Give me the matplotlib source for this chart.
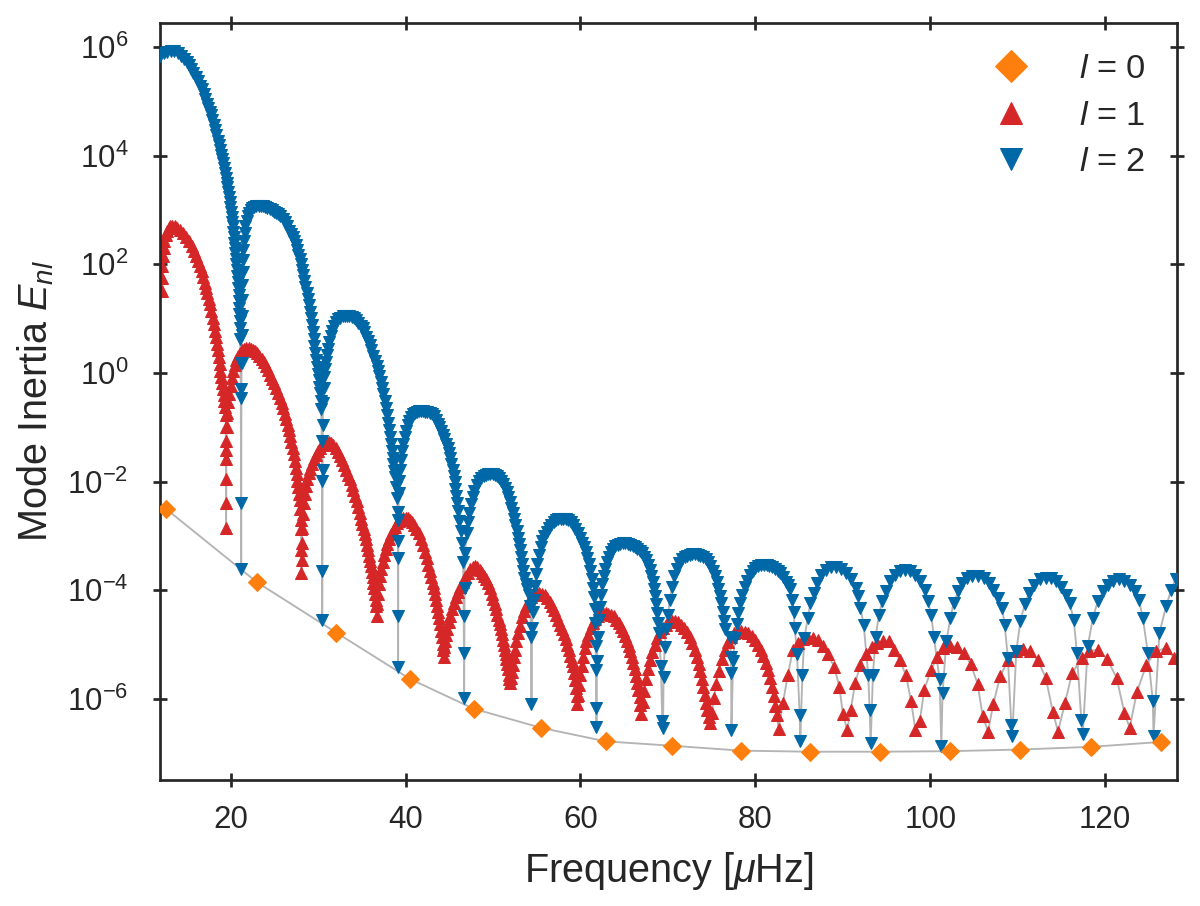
import numpy as np
import matplotlib
matplotlib.use("Agg")
import matplotlib.pyplot as plt
from matplotlib.ticker import FixedLocator, NullLocator, LogFormatterSciNotation
from matplotlib.lines import Line2D

plt.rcParams['font.family'] = ['Liberation Sans', 'DejaVu Sans']
plt.rcParams['mathtext.fontset'] = 'custom'
plt.rcParams['mathtext.rm'] = 'Liberation Sans'
plt.rcParams['mathtext.it'] = 'Liberation Sans:italic'
plt.rcParams['mathtext.bf'] = 'Liberation Sans:bold'

# ---- l = 0 radial modes (frequency in muHz, log10 of mode inertia) ----
nu_l0 = [12.6, 23.0, 32.1, 40.5, 47.8, 55.5, 62.9, 70.5, 78.3, 86.2, 94.2, 102.2, 110.3, 118.4, 126.4]
lg_l0 = [-2.50, -3.85, -4.78, -5.63, -6.18, -6.53, -6.78, -6.86, -6.95, -6.97, -6.97, -6.96, -6.93, -6.88, -6.79]

# ---- l = 1 mixed modes, one list of (nu, log10 E) per p-mode lobe ----
l1_lobe1 = [(12.10, 1.50), (12.14, 1.75), (12.19, 1.97), (12.25, 2.15), (12.33, 2.30), (12.43, 2.43),
            (12.56, 2.54), (12.72, 2.62), (12.9, 2.67), (13.1, 2.70), (13.35, 2.71), (13.63, 2.70),
            (13.9, 2.67), (14.2, 2.63), (14.58, 2.58), (14.9, 2.51), (15.22, 2.43), (15.54, 2.34),
            (15.8, 2.25), (16.05, 2.15), (16.28, 2.06), (16.49, 1.97), (16.68, 1.87), (16.86, 1.77),
            (17.04, 1.66), (17.2, 1.57), (17.35, 1.47), (17.5, 1.37), (17.65, 1.26), (17.8, 1.14),
            (17.94, 1.02), (18.07, 0.90), (18.19, 0.78), (18.31, 0.66), (18.42, 0.54), (18.53, 0.42),
            (18.63, 0.29), (18.73, 0.17), (18.83, 0.04), (18.92, -0.08), (19.01, -0.19), (19.1, -0.30),
            (19.19, -0.41), (19.28, -0.52), (19.36, -0.63), (19.42, -0.78), (19.44, -0.99), (19.45, -1.26),
            (19.46, -1.59), (19.47, -2.39), (19.48, -2.85)]
l1_lobe2 = [(19.5, -1.96), (19.52, -1.41), (19.56, -1.00), (19.64, -0.74), (19.74, -0.54), (19.86, -0.38),
            (20.03, -0.24), (20.16, -0.09), (20.3, 0.04), (20.46, 0.15), (20.64, 0.24), (20.84, 0.31),
            (21.06, 0.37), (21.3, 0.42), (21.55, 0.45), (21.8, 0.46), (22.05, 0.46), (22.3, 0.45),
            (22.55, 0.43), (22.8, 0.40), (23.05, 0.36), (23.3, 0.31), (23.55, 0.26), (23.8, 0.20),
            (24.05, 0.13), (24.3, 0.05), (24.53, -0.03), (24.76, -0.11), (24.98, -0.19), (25.2, -0.28),
            (25.41, -0.37), (25.62, -0.46), (25.82, -0.55), (26.01, -0.65), (26.19, -0.75), (26.36, -0.85),
            (26.52, -0.95), (26.67, -1.05), (26.81, -1.16), (26.95, -1.27), (27.08, -1.38), (27.2, -1.50),
            (27.32, -1.62), (27.43, -1.74), (27.54, -1.86), (27.64, -1.98), (27.73, -2.10), (27.82, -2.22),
            (27.9, -2.33), (27.97, -2.50), (28.02, -2.70), (28.06, -2.88), (28.08, -3.25), (28.1, -3.68)]
l1_lobe3 = [(28.12, -3.44), (28.15, -3.13), (28.2, -2.85), (28.27, -2.60), (28.36, -2.40), (28.47, -2.22),
            (28.6, -2.08), (28.75, -1.96), (28.92, -1.85), (29.1, -1.76), (29.3, -1.67), (29.52, -1.59),
            (29.75, -1.51), (30.0, -1.44), (30.25, -1.38), (30.5, -1.33), (30.75, -1.29), (31.0, -1.27),
            (31.25, -1.27), (31.5, -1.29), (31.75, -1.33), (32.0, -1.39), (32.25, -1.46), (32.49, -1.53),
            (32.72, -1.61), (32.95, -1.70), (33.18, -1.79), (33.4, -1.87), (33.63, -1.96), (33.83, -2.06),
            (34.03, -2.16), (34.22, -2.26), (34.4, -2.36), (34.58, -2.46), (34.74, -2.57), (34.9, -2.68),
            (35.05, -2.78), (35.2, -2.87), (35.35, -2.96), (35.48, -3.06), (35.6, -3.16), (35.72, -3.26),
            (35.83, -3.36), (35.94, -3.46), (36.04, -3.56), (36.14, -3.66), (36.24, -3.76), (36.33, -3.86),
            (36.42, -3.96), (36.5, -4.06), (36.57, -4.17), (36.63, -4.29), (36.68, -4.48)]
l1_lobe4 = [(36.75, -4.25), (36.85, -4.06), (36.97, -3.89), (37.1, -3.74), (37.24, -3.60), (37.39, -3.47),
            (37.55, -3.35), (37.72, -3.24), (37.9, -3.14), (38.1, -3.05), (38.3, -2.97), (38.52, -2.90),
            (38.75, -2.83), (39.0, -2.77), (39.25, -2.72), (39.5, -2.69), (39.75, -2.67), (40.0, -2.66),
            (40.25, -2.67), (40.5, -2.70), (40.75, -2.74), (41.0, -2.80), (41.25, -2.87), (41.5, -2.95),
            (41.75, -3.05), (42.0, -3.17), (42.22, -3.29), (42.42, -3.41), (42.6, -3.53), (42.78, -3.64),
            (42.94, -3.75), (43.1, -3.86), (43.24, -3.96), (43.38, -4.07), (43.51, -4.18), (43.63, -4.29),
            (43.75, -4.40), (43.86, -4.51), (43.96, -4.62), (44.06, -4.74), (44.15, -4.86), (44.23, -4.98),
            (44.3, -5.10), (44.36, -5.22)]
l1_lobe5 = [(44.42, -5.05), (44.52, -4.94), (44.64, -4.83), (44.78, -4.71), (44.94, -4.59), (45.12, -4.47),
            (45.32, -4.35), (45.54, -4.24), (45.78, -4.13), (46.02, -4.03), (46.28, -3.93), (46.55, -3.84),
            (46.82, -3.76), (47.1, -3.68), (47.38, -3.61), (47.66, -3.57), (47.94, -3.55), (48.22, -3.57),
            (48.5, -3.62), (48.75, -3.68), (49.0, -3.74), (49.22, -3.80), (49.44, -3.87), (49.64, -3.96),
            (49.84, -4.06), (50.02, -4.16), (50.2, -4.25), (50.36, -4.35), (50.51, -4.45), (50.65, -4.54),
            (50.78, -4.62), (50.91, -4.71), (51.03, -4.81), (51.14, -4.91), (51.24, -5.00), (51.34, -5.09),
            (51.43, -5.18), (51.52, -5.27), (51.61, -5.36), (51.7, -5.45), (51.78, -5.55), (51.86, -5.64),
            (51.92, -5.71)]
l1_lobe6 = [(52.0, -5.62), (52.12, -5.50), (52.25, -5.37), (52.38, -5.23), (52.52, -5.09), (52.68, -4.94),
            (52.87, -4.79), (53.07, -4.65), (53.3, -4.50), (53.55, -4.38), (53.82, -4.28), (54.1, -4.20),
            (54.4, -4.13), (54.7, -4.08), (55.0, -4.06), (55.3, -4.05), (55.6, -4.06), (55.9, -4.09),
            (56.2, -4.14), (56.48, -4.21), (56.75, -4.29), (57.0, -4.36), (57.25, -4.45), (57.48, -4.54),
            (57.7, -4.63), (57.9, -4.72), (58.1, -4.81), (58.3, -4.90), (58.5, -5.00), (58.68, -5.10),
            (58.85, -5.20), (59.0, -5.30), (59.15, -5.40), (59.28, -5.52), (59.4, -5.65), (59.5, -5.79),
            (59.57, -5.94), (59.63, -6.10)]
l1_lobe7 = [(59.72, -5.92), (59.84, -5.74), (59.98, -5.56), (60.13, -5.39), (60.3, -5.22), (60.48, -5.07),
            (60.68, -4.94), (60.9, -4.82), (61.15, -4.70), (61.42, -4.60), (61.7, -4.52), (62.0, -4.47),
            (62.3, -4.44), (62.6, -4.42), (62.9, -4.42), (63.2, -4.43), (63.5, -4.45), (63.8, -4.48),
            (64.08, -4.54), (64.35, -4.60), (64.6, -4.67), (64.85, -4.75), (65.08, -4.84), (65.3, -4.93),
            (65.5, -5.02), (65.7, -5.12), (65.88, -5.23), (66.05, -5.34), (66.2, -5.45), (66.35, -5.57),
            (66.5, -5.70), (66.63, -5.83), (66.75, -5.97), (66.86, -6.11), (66.97, -6.28)]
l1_lobe8 = [(67.12, -6.05), (67.3, -5.85), (67.5, -5.64), (67.72, -5.45), (67.96, -5.28), (68.22, -5.13),
            (68.5, -5.00), (68.8, -4.88), (69.12, -4.77), (69.45, -4.69), (69.8, -4.63), (70.15, -4.59),
            (70.5, -4.57), (70.85, -4.57), (71.2, -4.59), (71.55, -4.63), (71.88, -4.69), (72.2, -4.77),
            (72.5, -4.86), (72.78, -4.97), (73.04, -5.09), (73.28, -5.22), (73.5, -5.35), (73.7, -5.49),
            (73.88, -5.63), (74.05, -5.78), (74.22, -5.92), (74.38, -6.07), (74.52, -6.21), (74.65, -6.34),
            (74.8, -6.45)]
l1_lobe9 = [(75.0, -6.25), (75.25, -5.98), (75.52, -5.72), (75.82, -5.48), (76.14, -5.27), (76.48, -5.09),
            (76.84, -4.95), (77.22, -4.85), (77.6, -4.79), (78.0, -4.76), (78.4, -4.75), (78.8, -4.76),
            (79.2, -4.79), (79.58, -4.84), (79.94, -4.91), (80.28, -5.00), (80.6, -5.10), (80.9, -5.21),
            (81.18, -5.33), (81.44, -5.47), (81.68, -5.62), (81.9, -5.78), (82.1, -5.95), (82.28, -6.12),
            (82.45, -6.30), (82.65, -6.55)]
l1_lobe10 = [(83.15, -6.07), (83.72, -5.55), (84.3, -5.09), (84.9, -4.97), (85.4, -4.90), (86.0, -4.88),
             (86.6, -4.88), (87.2, -4.92), (87.7, -5.03), (88.3, -5.18), (89.0, -5.41), (89.6, -5.77),
             (90.0, -6.27), (90.5, -6.57)]
l1_lobe11 = [(90.9, -6.20), (91.4, -5.71), (92.0, -5.37), (92.6, -5.18), (93.3, -5.04), (93.9, -4.97),
             (94.6, -4.94), (95.3, -4.94), (95.9, -5.09), (96.5, -5.29), (97.2, -5.55), (97.8, -6.04),
             (98.3, -6.57)]
l1_lobe12 = [(98.8, -6.41), (99.3, -5.83), (100.1, -5.46), (100.8, -5.22), (101.4, -5.06), (102.3, -5.02),
             (103.1, -5.04), (103.8, -5.15), (104.6, -5.35), (105.4, -5.72), (106.0, -6.32), (106.6, -6.60)]
l1_lobe13 = [(107.2, -6.09), (108.0, -5.58), (108.9, -5.28), (109.8, -5.12), (110.6, -5.08), (111.4, -5.12),
             (112.3, -5.29), (113.2, -5.61), (114.0, -6.23), (114.6, -6.60)]
l1_lobe14 = [(115.4, -6.07), (116.2, -5.53), (117.3, -5.25), (118.2, -5.12), (119.2, -5.09), (120.2, -5.26),
             (121.3, -5.61), (122.2, -6.26), (122.8, -6.53)]
l1_lobe15 = [(123.6, -5.88), (124.7, -5.37), (125.8, -5.12), (127.0, -5.06), (127.9, -5.25)]

# ---- l = 2 mixed modes, one list of (nu, log10 E) per p-mode lobe ----
l2_lobe1 = [(11.95, 5.84), (12.35, 5.88), (12.75, 5.91), (13.15, 5.92), (13.55, 5.92), (13.95, 5.89),
            (14.35, 5.84), (14.7, 5.78), (15.0, 5.72), (15.25, 5.66), (15.5, 5.59), (15.75, 5.52),
            (16.0, 5.44), (16.25, 5.37), (16.5, 5.29), (16.7, 5.22), (16.9, 5.13), (17.1, 5.04),
            (17.3, 4.95), (17.45, 4.88), (17.6, 4.81), (17.75, 4.74), (17.9, 4.65), (18.05, 4.56),
            (18.2, 4.47), (18.35, 4.37), (18.5, 4.27), (18.62, 4.19), (18.74, 4.11), (18.86, 4.02),
            (18.97, 3.94), (19.08, 3.86), (19.2, 3.77), (19.31, 3.68), (19.42, 3.59), (19.53, 3.50),
            (19.63, 3.42), (19.72, 3.33), (19.81, 3.24), (19.9, 3.15), (19.98, 3.05), (20.06, 2.96),
            (20.13, 2.87), (20.2, 2.78), (20.26, 2.70), (20.32, 2.60), (20.38, 2.50), (20.44, 2.40),
            (20.5, 2.30), (20.55, 2.20), (20.6, 2.10), (20.65, 2.00), (20.7, 1.90), (20.75, 1.79),
            (20.8, 1.68), (20.85, 1.56), (20.9, 1.44), (20.94, 1.32), (20.98, 1.20), (21.01, 1.08),
            (21.04, 0.95), (21.07, 0.82), (21.1, 0.62), (21.13, 0.19), (21.16, -0.30), (21.19, -2.39),
            (21.21, -3.60)]
l2_lobe2 = [(21.23, -0.46), (21.25, 0.19), (21.27, 0.70), (21.29, 1.05), (21.31, 1.35), (21.34, 1.62),
            (21.37, 1.86), (21.41, 2.07), (21.46, 2.26), (21.52, 2.43), (21.6, 2.57), (21.7, 2.70),
            (21.82, 2.80), (21.96, 2.88), (22.12, 2.95), (22.3, 3.00), (22.5, 3.04), (22.72, 3.06),
            (22.95, 3.07), (23.2, 3.08), (23.45, 3.08), (23.7, 3.07), (23.95, 3.06), (24.2, 3.04),
            (24.45, 3.02), (24.7, 2.99), (24.95, 2.97), (25.2, 2.95), (25.45, 2.92), (25.7, 2.88),
            (25.95, 2.83), (26.2, 2.77), (26.45, 2.70), (26.7, 2.62), (26.9, 2.56), (27.08, 2.50),
            (27.25, 2.43), (27.42, 2.35), (27.58, 2.27), (27.73, 2.18), (27.88, 2.09), (28.02, 2.00),
            (28.16, 1.90), (28.3, 1.80), (28.43, 1.70), (28.56, 1.59), (28.69, 1.48), (28.81, 1.37),
            (28.93, 1.25), (29.05, 1.13), (29.16, 1.01), (29.27, 0.89), (29.38, 0.76), (29.48, 0.63),
            (29.58, 0.50), (29.68, 0.37), (29.78, 0.24), (29.88, 0.11), (29.97, -0.01), (30.06, -0.13),
            (30.14, -0.25), (30.22, -0.37), (30.3, -0.52), (30.36, -0.67), (30.42, -1.26), (30.45, -1.99),
            (30.47, -4.55)]
l2_lobe3 = [(30.49, -3.65), (30.51, -1.78), (30.53, -0.95), (30.57, -0.55), (30.62, -0.28), (30.68, -0.08),
            (30.76, 0.08), (30.86, 0.21), (30.98, 0.33), (31.12, 0.45), (31.27, 0.57), (31.44, 0.68),
            (31.62, 0.78), (31.82, 0.87), (32.04, 0.94), (32.28, 0.99), (32.54, 1.02), (32.8, 1.04),
            (33.06, 1.05), (33.32, 1.05), (33.58, 1.04), (33.84, 1.03), (34.1, 1.01), (34.35, 0.97),
            (34.6, 0.92), (34.85, 0.87), (35.08, 0.82), (35.3, 0.75), (35.5, 0.67), (35.7, 0.59),
            (35.9, 0.51), (36.1, 0.42), (36.3, 0.32), (36.5, 0.22), (36.7, 0.13), (36.85, 0.04),
            (37.0, -0.06), (37.15, -0.17), (37.3, -0.28), (37.47, -0.39), (37.63, -0.51), (37.77, -0.64),
            (37.9, -0.78), (38.02, -0.92), (38.12, -1.05), (38.22, -1.18), (38.32, -1.31), (38.42, -1.44),
            (38.51, -1.56), (38.6, -1.68), (38.68, -1.80), (38.8, -1.92), (38.95, -2.10), (39.05, -2.30),
            (39.1, -2.55), (39.12, -3.10), (39.14, -4.48), (39.15, -5.41)]
l2_lobe4 = [(39.17, -3.40), (39.19, -2.70), (39.22, -2.20), (39.3, -1.98), (39.4, -1.78), (39.5, -1.60),
            (39.62, -1.44), (39.75, -1.30), (39.9, -1.17), (40.06, -1.06), (40.23, -0.96), (40.42, -0.88),
            (40.62, -0.81), (40.84, -0.76), (41.07, -0.73), (41.3, -0.71), (41.54, -0.70), (41.78, -0.70),
            (42.02, -0.70), (42.26, -0.71), (42.5, -0.72), (42.74, -0.74), (43.0, -0.76), (43.22, -0.80),
            (43.44, -0.86), (43.66, -0.93), (43.86, -0.99), (44.06, -1.06), (44.26, -1.14), (44.45, -1.22),
            (44.63, -1.30), (44.8, -1.38), (44.96, -1.47), (45.11, -1.57), (45.25, -1.67), (45.38, -1.78),
            (45.5, -1.89), (45.61, -2.01), (45.71, -2.14), (45.8, -2.27), (45.88, -2.40), (45.96, -2.54),
            (46.1, -2.72), (46.3, -2.90), (46.45, -3.13), (46.58, -3.47), (46.65, -4.48), (46.7, -5.98)]
l2_lobe5 = [(46.72, -5.15), (46.75, -3.96), (46.8, -3.31), (46.97, -2.94), (47.12, -2.74), (47.28, -2.57),
            (47.46, -2.42), (47.66, -2.29), (47.88, -2.17), (48.12, -2.07), (48.38, -1.99), (48.65, -1.93),
            (48.92, -1.89), (49.2, -1.87), (49.45, -1.86), (49.7, -1.86), (49.95, -1.86), (50.2, -1.88),
            (50.45, -1.90), (50.7, -1.93), (50.93, -1.98), (51.15, -2.04), (51.36, -2.11), (51.56, -2.19),
            (51.75, -2.28), (51.93, -2.38), (52.1, -2.48), (52.26, -2.58), (52.42, -2.68), (52.57, -2.79),
            (52.71, -2.91), (52.85, -3.03), (52.98, -3.14), (53.1, -3.26), (53.22, -3.39), (53.34, -3.52),
            (53.46, -3.64), (53.6, -3.77), (53.75, -3.88), (53.92, -3.97), (54.1, -4.08), (54.25, -4.29),
            (54.35, -4.85), (54.4, -6.10)]
l2_lobe6 = [(54.45, -4.70), (54.55, -4.40), (54.65, -4.17), (54.78, -3.92), (54.92, -3.70), (55.08, -3.51),
            (55.25, -3.35), (55.45, -3.21), (55.65, -3.10), (55.88, -3.00), (56.12, -2.92), (56.38, -2.85),
            (56.65, -2.79), (56.92, -2.74), (57.2, -2.71), (57.48, -2.69), (57.76, -2.68), (58.04, -2.68),
            (58.32, -2.69), (58.6, -2.71), (58.88, -2.75), (59.15, -2.80), (59.42, -2.87), (59.68, -2.95),
            (59.92, -3.04), (60.15, -3.12), (60.37, -3.21), (60.58, -3.30), (60.78, -3.40), (60.96, -3.52),
            (61.13, -3.65), (61.28, -3.79), (61.42, -3.95), (61.54, -4.13), (61.64, -4.35), (61.71, -4.60),
            (61.75, -5.03), (61.78, -5.46), (61.81, -6.17), (61.83, -6.52)]
l2_lobe7 = [(61.88, -5.30), (61.97, -4.85), (62.08, -4.55), (62.2, -4.30), (62.33, -4.08), (62.48, -3.89),
            (62.64, -3.73), (62.82, -3.60), (63.02, -3.48), (63.24, -3.38), (63.48, -3.30), (63.74, -3.24),
            (64.0, -3.19), (64.28, -3.16), (64.56, -3.14), (64.84, -3.13), (65.12, -3.13), (65.4, -3.14),
            (65.68, -3.16), (65.96, -3.19), (66.23, -3.21), (66.5, -3.24), (66.76, -3.28), (67.01, -3.32),
            (67.25, -3.38), (67.48, -3.45), (67.7, -3.53), (67.9, -3.62), (68.08, -3.73), (68.25, -3.85),
            (68.4, -3.97), (68.54, -4.10), (68.67, -4.25), (68.78, -4.42), (68.88, -4.60), (68.97, -4.78),
            (69.2, -5.40), (69.35, -6.41), (69.44, -6.53)]
l2_lobe8 = [(69.5, -5.60), (69.62, -5.05), (69.8, -4.72), (70.0, -4.45), (70.22, -4.17), (70.46, -3.93),
            (70.72, -3.74), (71.0, -3.60), (71.3, -3.49), (71.6, -3.42), (71.9, -3.38), (72.2, -3.36),
            (72.5, -3.35), (72.8, -3.34), (73.1, -3.34), (73.4, -3.35), (73.7, -3.36), (74.0, -3.39),
            (74.3, -3.43), (74.58, -3.48), (74.85, -3.55), (75.1, -3.64), (75.34, -3.74), (75.56, -3.85),
            (75.76, -3.97), (75.94, -4.10), (76.1, -4.24), (76.25, -4.40), (76.4, -4.57), (76.55, -4.72),
            (77.12, -4.85), (77.19, -5.22), (77.23, -5.52), (77.26, -6.57)]
l2_lobe9 = [(77.45, -5.30), (77.65, -4.88), (77.85, -4.62), (78.05, -4.42), (78.28, -4.24), (78.52, -4.08),
            (78.78, -3.94), (79.06, -3.82), (79.36, -3.72), (79.68, -3.64), (80.0, -3.58), (80.32, -3.55),
            (80.64, -3.53), (80.96, -3.53), (81.28, -3.53), (81.6, -3.55), (81.92, -3.57), (82.24, -3.60),
            (82.55, -3.64), (82.85, -3.68), (83.16, -3.76), (83.45, -3.84), (83.7, -3.90), (83.92, -3.97),
            (84.23, -4.17), (84.38, -4.39), (84.5, -4.69), (84.76, -5.18), (85.06, -6.29), (85.14, -6.78)]
l2_lobe10 = [(85.37, -5.55), (85.6, -4.88), (86.0, -4.51), (86.29, -4.23), (86.67, -4.05), (87.04, -3.86),
             (87.54, -3.71), (88.11, -3.62), (88.69, -3.57), (89.26, -3.57), (89.83, -3.61), (90.4, -3.68),
             (90.97, -3.80), (91.46, -3.96), (91.73, -4.11), (92.0, -4.32), (92.38, -4.63), (92.9, -5.55),
             (93.06, -6.20), (93.18, -6.81)]
l2_lobe11 = [(93.44, -5.55), (93.75, -4.85), (94.13, -4.45), (94.51, -4.20), (94.97, -4.02), (95.43, -3.83),
             (95.92, -3.71), (96.5, -3.65), (97.06, -3.63), (97.63, -3.65), (98.2, -3.71), (98.78, -3.83),
             (99.35, -3.99), (99.73, -4.20), (100.1, -4.45), (100.4, -4.85), (101.06, -5.64), (101.26, -6.86)]
l2_lobe12 = [(101.4, -5.89), (101.83, -4.94), (102.3, -4.51), (102.66, -4.23), (103.2, -4.02), (103.66, -3.86),
             (104.2, -3.77), (104.8, -3.73), (105.44, -3.73), (106.1, -3.77), (106.7, -3.86), (107.2, -3.99),
             (107.7, -4.14), (108.2, -4.32), (108.5, -4.63), (108.87, -5.25), (109.26, -6.47), (109.37, -6.68)]
l2_lobe13 = [(109.83, -5.12), (110.3, -4.57), (110.78, -4.26), (111.27, -4.05), (111.84, -3.90), (112.5, -3.79),
             (113.17, -3.77), (113.83, -3.77), (114.4, -3.83), (114.97, -3.93), (115.54, -4.08), (115.92, -4.23),
             (116.4, -4.54), (116.76, -5.15), (117.26, -6.38), (117.44, -6.64)]
l2_lobe14 = [(118.0, -5.03), (118.58, -4.51), (119.15, -4.20), (119.73, -4.02), (120.3, -3.90), (120.87, -3.82),
             (121.55, -3.80), (122.2, -3.83), (122.78, -3.90), (123.35, -4.02), (123.84, -4.17), (124.3, -4.51),
             (124.87, -5.15), (125.44, -6.04), (125.52, -6.68)]
l2_lobe15 = [(126.2, -4.78), (126.97, -4.29), (127.54, -3.99), (128.04, -3.79)]

l1_lobes = [l1_lobe1, l1_lobe2, l1_lobe3, l1_lobe4, l1_lobe5, l1_lobe6, l1_lobe7, l1_lobe8,
            l1_lobe9, l1_lobe10, l1_lobe11, l1_lobe12, l1_lobe13, l1_lobe14, l1_lobe15]
l2_lobes = [l2_lobe1, l2_lobe2, l2_lobe3, l2_lobe4, l2_lobe5, l2_lobe6, l2_lobe7, l2_lobe8,
            l2_lobe9, l2_lobe10, l2_lobe11, l2_lobe12, l2_lobe13, l2_lobe14, l2_lobe15]


def unpack(lobes):
    pts = [p for lobe in lobes for p in lobe]
    nu = np.array([p[0] for p in pts])
    e = 10.0 ** np.array([p[1] for p in pts])
    return nu, e


nu_l1, e_l1 = unpack(l1_lobes)
nu_l2, e_l2 = unpack(l2_lobes)
e_l0 = 10.0 ** np.array(lg_l0)

c0 = '#ff7f0e'
c1 = '#d62728'
c2 = '#0068a6'
grey = '#b4b4b4'
dark = '#262626'

fig = plt.figure(figsize=(8, 6.04), dpi=150)
ax = fig.add_axes([0.1333, 0.1391, 0.8475, 0.8355])

ax.plot(nu_l0, e_l0, color=grey, lw=0.9, zorder=1)
ax.plot(nu_l1, e_l1, color=grey, lw=0.9, zorder=1)
ax.plot(nu_l2, e_l2, color=grey, lw=0.9, zorder=1)

mk = dict(ls='none', ms=5.8, mew=0.5)
ax.plot(nu_l1, e_l1, marker='^', color=c1, mec=c1, zorder=2, **mk)
ax.plot(nu_l2, e_l2, marker='v', color=c2, mec=c2, zorder=3, **mk)
ax.plot(nu_l0, e_l0, marker='D', color=c0, mec=c0, zorder=4, **mk)

ax.set_yscale('log')
ax.set_xlim(11.92, 128.2)
ax.set_ylim(10 ** -7.49, 10 ** 6.44)
ax.yaxis.set_major_locator(FixedLocator([1e-6, 1e-4, 1e-2, 1e0, 1e2, 1e4, 1e6]))
ax.yaxis.set_major_formatter(LogFormatterSciNotation())
ax.yaxis.set_minor_locator(NullLocator())
ax.set_xticks([20, 40, 60, 80, 100, 120])

for sp in ax.spines.values():
    sp.set_color(dark)
    sp.set_linewidth(1.3)
ax.tick_params(which='major', direction='inout', length=6.5, width=1.3, color=dark,
               top=True, right=True, labelsize=15, labelcolor=dark)
ax.tick_params(axis='x', pad=9)
ax.tick_params(axis='y', pad=12)

ax.set_xlabel(r'Frequency [$\mu$Hz]', fontsize=19, color=dark, labelpad=7)
ax.set_ylabel(r'Mode Inertia $E_{nl}$', fontsize=19, color=dark, labelpad=5)

handles = [Line2D([], [], marker='D', color=c0, mec=c0, **mk),
           Line2D([], [], marker='^', color=c1, mec=c1, **mk),
           Line2D([], [], marker='v', color=c2, mec=c2, **mk)]
leg = ax.legend(handles, [r'$l$ = 0', r'$l$ = 1', r'$l$ = 2'], loc='upper right',
                frameon=False, fontsize=16.5, markerscale=1.85, numpoints=1,
                handletextpad=1.0, labelspacing=0.45)
for t in leg.get_texts():
    t.set_color(dark)

fig.savefig('out.png', dpi=150)
